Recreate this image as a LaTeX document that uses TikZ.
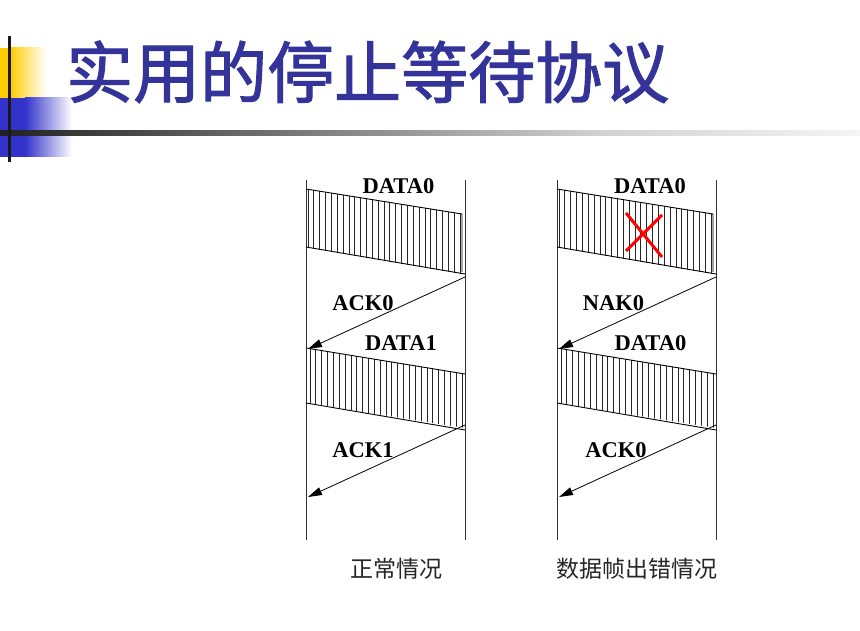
\documentclass[tikz,border=0pt]{standalone}
\usepackage{fontspec}
\setmainfont{Liberation Serif}
\newfontfamily\cjk{Noto Sans CJK SC}
\newfontfamily\cjktitle[FakeBold=1.6]{Noto Sans CJK SC}
\usetikzlibrary{arrows.meta}
\definecolor{titleblue}{RGB}{51,51,153}
\definecolor{decoyellow}{RGB}{255,204,0}
\definecolor{decoblue}{RGB}{51,51,204}
\tikzset{
  timeline/.style={draw=black!80, line width=0.9pt},
  edge/.style={draw=black, line width=0.9pt},
  hatch/.style={draw=black!85, line width=0.85pt},
  msg/.style={draw=black, line width=0.8pt, -{Triangle[length=14pt,width=8pt]}},
  lbl/.style={font=\fontsize{22.5}{24}\selectfont\bfseries, inner sep=0pt},
  captext/.style={font=\cjk\fontsize{23}{26}\selectfont, inner sep=0pt, text=black!85},
  cross/.style={draw=red, line width=3pt},
}
\begin{document}
\begin{tikzpicture}[x=1pt,y=-1pt]
\useasboundingbox (0,0) rectangle (860,631);
% decoration
\fill[decoyellow] (0,48) rectangle (10,98);
\shade[left color=decoyellow, right color=white] (10,48) rectangle (46,98);
\fill[decoblue] (0,98) rectangle (25,157);
\shade[left color=decoblue, right color=white] (25,98) rectangle (72,157);
\shade[left color=black!87, right color=black!18] (0,130.5) rectangle (600,135.5);
\shade[left color=black!18, right color=black!4] (600,130.5) rectangle (860,135.5);
\fill[black!90] (7.5,36) rectangle (11,162);
% title
\node[anchor=west, inner sep=0pt, text=titleblue, font=\cjktitle\fontsize{67}{72}\selectfont] (title) at (66,72) {实用的停止等待协议};

% ---------- left diagram ----------
\coordinate (LA) at (306,180); \coordinate (LAb) at (306,540);
\coordinate (LB) at (465,180); \coordinate (LBb) at (465,540);
\draw[timeline] (LA) -- (LAb);
\draw[timeline] (LB) -- (LBb);
\begin{scope}
\clip (306,189) -- (462,214) -- (462,274) -- (306,247) -- cycle;
\foreach \i in {0,...,26} \draw[hatch] ({308+\i*5.85},150) -- ({308+\i*5.85},300);
\end{scope}
\coordinate (l1a) at (306,189); \coordinate (l1b) at (462,214);
\coordinate (l1c) at (306,247); \coordinate (l1d) at (465,274);
\draw[edge] (l1a) -- (l1b) -- (462,272);
\draw[edge] (l1c) -- (l1d);
\coordinate (lk0s) at (465,277); \coordinate (lk0e) at (308,349);
\draw[msg] (lk0s) -- (lk0e);
\begin{scope}
\clip (306,348) -- (465,374) -- (465,428) -- (306,403) -- cycle;
\foreach \i in {0,...,26} \draw[hatch] ({310+\i*5.85},300) -- ({310+\i*5.85},450);
\end{scope}
\coordinate (l2a) at (306,348); \coordinate (l2b) at (465,374);
\coordinate (l2c) at (306,403); \coordinate (l2d) at (465,430);
\draw[edge] (l2a) -- (l2b);
\draw[edge] (l2c) -- (l2d);
\coordinate (lk1s) at (465,425); \coordinate (lk1e) at (308,497);
\draw[msg] (lk1s) -- (lk1e);
\node[lbl] (ld0) at (398.5,186) {DATA0};
\node[lbl] (lak0) at (363,303) {ACK0};
\node[lbl] (ld1) at (401,343) {DATA1};
\node[lbl] (lak1) at (363,450) {ACK1};
\node[captext] (lcap) at (396,569) {正常情况};

% ---------- right diagram ----------
\begin{scope}[xshift=251pt]
\coordinate (RA) at (306,180); \coordinate (RAb) at (306,540);
\coordinate (RB) at (465,180); \coordinate (RBb) at (465,540);
\draw[timeline] (RA) -- (RAb);
\draw[timeline] (RB) -- (RBb);
\begin{scope}
\clip (306,189) -- (462,214) -- (462,274) -- (306,247) -- cycle;
\foreach \i in {0,...,26} \draw[hatch] ({308+\i*5.85},150) -- ({308+\i*5.85},300);
\end{scope}
\coordinate (r1a) at (306,189); \coordinate (r1b) at (462,214);
\coordinate (r1c) at (306,247); \coordinate (r1d) at (465,274);
\draw[edge] (r1a) -- (r1b) -- (462,272);
\draw[edge] (r1c) -- (r1d);
\coordinate (rk0s) at (465,277); \coordinate (rk0e) at (308,349);
\draw[msg] (rk0s) -- (rk0e);
\begin{scope}
\clip (306,348) -- (465,374) -- (465,428) -- (306,403) -- cycle;
\foreach \i in {0,...,26} \draw[hatch] ({310+\i*5.85},300) -- ({310+\i*5.85},450);
\end{scope}
\coordinate (r2a) at (306,348); \coordinate (r2b) at (465,374);
\coordinate (r2c) at (306,403); \coordinate (r2d) at (465,430);
\draw[edge] (r2a) -- (r2b);
\draw[edge] (r2c) -- (r2d);
\coordinate (rk1s) at (465,425); \coordinate (rk1e) at (308,497);
\draw[msg] (rk1s) -- (rk1e);
\coordinate (x1) at (375,213); \coordinate (x2) at (411,257);
\coordinate (x3) at (411,215); \coordinate (x4) at (375,251);
\draw[cross] (x1) -- (x2);
\draw[cross] (x3) -- (x4);
\node[lbl] (rd0) at (399,186) {DATA0};
\node[lbl] (rnk0) at (362.5,303) {NAK0};
\node[lbl] (rd1) at (399.5,343) {DATA0};
\node[lbl] (rak0) at (365,450) {ACK0};
\node[captext] (rcap) at (386,569) {数据帧出错情况};
\end{scope}
\end{tikzpicture}
\end{document}
